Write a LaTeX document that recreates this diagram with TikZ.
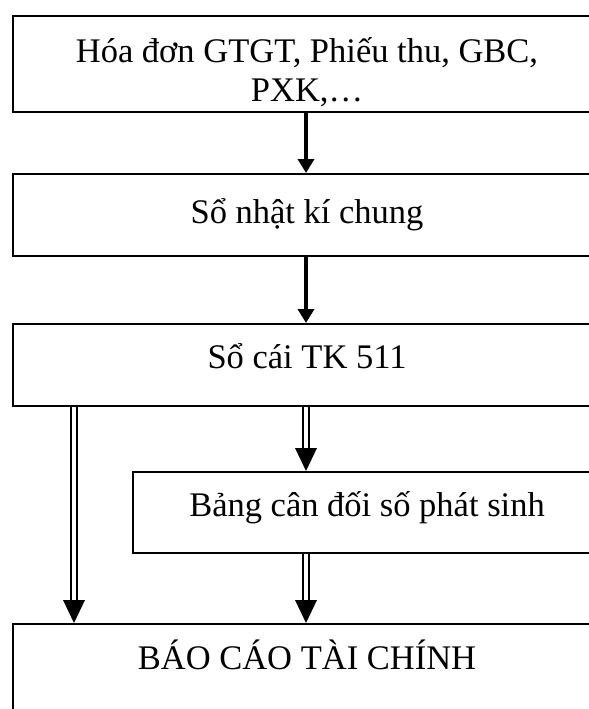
\documentclass[tikz,border=0pt]{standalone}
\usepackage{fontspec}
\setmainfont{Liberation Serif}
\usetikzlibrary{arrows.meta}
\begin{document}
\begin{tikzpicture}[x=1bp, y=-1bp,
  font=\fontsize{34.5bp}{38bp}\selectfont,
  box/.style={draw, line width=2bp, inner sep=0pt, anchor=north west},
  flow/.style={line width=3.5bp, -{Triangle[width=16bp,length=14bp]}},
  dblshaft/.style={double, line width=2bp, double distance=4bp, shorten >=20bp},
  dbltip/.style={fill=black}]
\useasboundingbox (0,0) rectangle (589,709);

% boxes (they run on past the right edge of the page)
\node[box, minimum width=588bp, text height=47bp, text depth=49bp] (src) at (12,15)
  {\parbox[t]{560bp}{\centering Hóa đơn GTGT, Phiếu thu, GBC,\\ PXK,…}};
\node[box, minimum width=588bp, text height=49bp, text depth=33bp] (nkc) at (12,173)
  {Sổ nhật kí chung};
\node[box, minimum width=588bp, text height=44bp, text depth=38bp] (sc) at (12,323)
  {Sổ cái TK 511};
\node[box, minimum width=468bp, text height=44bp, text depth=37bp] (cdps) at (132,471)
  {Bảng cân đối số phát sinh};
\node[box, minimum width=588bp, text height=45bp, text depth=100bp] (bctc) at (12,623)
  {BÁO CÁO TÀI CHÍNH};

% x positions of the connectors
\coordinate (lx) at (74,0);
\coordinate (mx) at (306,0);

% single arrows
\draw[flow] (src.south -| mx) -- (nkc.north -| mx);
\draw[flow] (nkc.south -| mx) -- (sc.north -| mx);

% double arrows
\draw[dblshaft] (sc.south -| lx) -- (bctc.north -| lx);
\fill[dbltip] (bctc.north -| lx) -- ++(-11,-23) -- ++(22,0) -- cycle;
\draw[dblshaft] (sc.south -| mx) -- (cdps.north -| mx);
\fill[dbltip] (cdps.north -| mx) -- ++(-11,-23) -- ++(22,0) -- cycle;
\draw[dblshaft] (cdps.south -| mx) -- (bctc.north -| mx);
\fill[dbltip] (bctc.north -| mx) -- ++(-11,-23) -- ++(22,0) -- cycle;
\end{tikzpicture}
\end{document}
